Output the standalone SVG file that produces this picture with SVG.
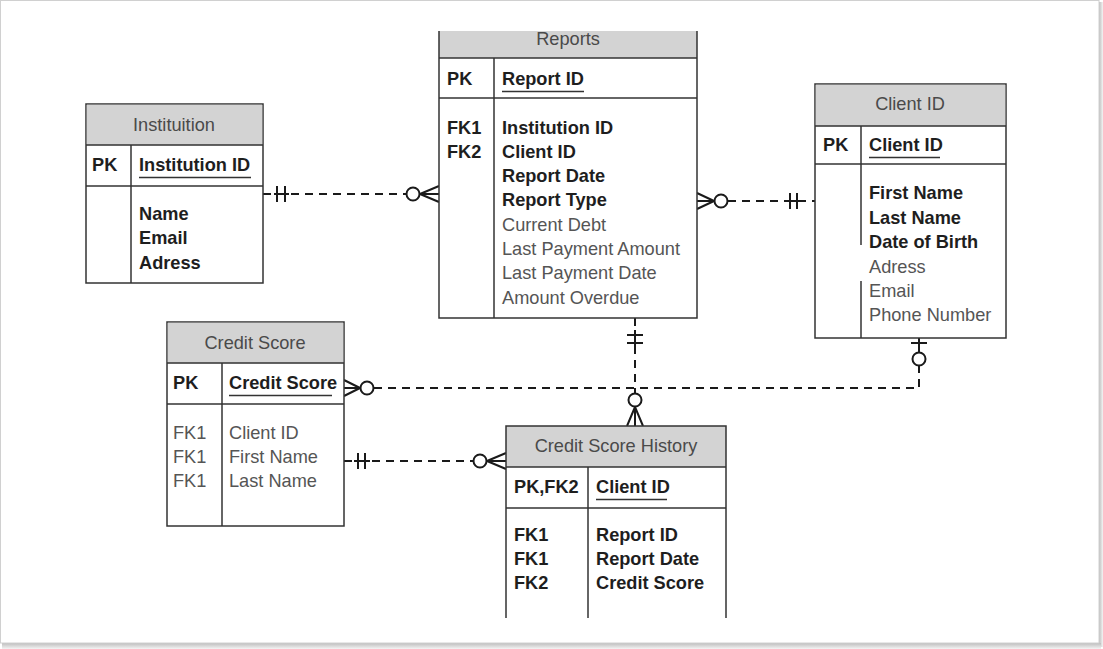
<svg xmlns="http://www.w3.org/2000/svg" width="1103" height="649" viewBox="0 0 1103 649">
<defs>
<linearGradient id="shR" x1="0" y1="0" x2="1" y2="0"><stop offset="0" stop-color="#bdbdbd"/><stop offset="1" stop-color="#f4f4f4"/></linearGradient>
<linearGradient id="shB" x1="0" y1="0" x2="0" y2="1"><stop offset="0" stop-color="#bdbdbd"/><stop offset="1" stop-color="#f4f4f4"/></linearGradient>
</defs>
<style>
.frame{fill:#fff;stroke:#d0d0d0;stroke-width:1}
.hdr{fill:#d3d3d3;stroke:none}
.ln{stroke:#333;stroke-width:1.5;fill:none}
.box{fill:#fff;stroke:#333;stroke-width:1.5}
.t{font-family:"Liberation Sans",Arial,sans-serif;font-size:18.2px}
.b{font-weight:bold;fill:#1e1e1e}
.r{fill:#555}
.h{fill:#4a4a4a;text-anchor:middle}
.ul{stroke:#333;stroke-width:1.3}
.c{stroke:#1a1a1a;stroke-width:2;fill:none}
.d{stroke-dasharray:8 6}
.o{fill:#fff;stroke:#1a1a1a;stroke-width:2}
</style>
<rect x="0" y="0" width="1103" height="649" fill="#fff"/>
<rect x="1099" y="2" width="4" height="645" fill="url(#shR)"/>
<rect x="2" y="643" width="1099" height="6" fill="url(#shB)"/>
<rect class="frame" x="0.5" y="0.5" width="1098.5" height="642.5"/>

<g id="connectors">
  <!-- Institution - Reports -->
  <line class="c d" x1="263" y1="194" x2="406" y2="194"/>
  <line class="c" x1="274" y1="194" x2="289" y2="194"/>
  <line class="c" x1="277" y1="186" x2="277" y2="202"/>
  <line class="c" x1="285" y1="186" x2="285" y2="202"/>
  <circle class="o" cx="413" cy="194" r="6.5"/>
  <path class="c" d="M420,194 L439,186 M420,194 L439,194 M420,194 L439,202"/>
  <!-- Reports - Client -->
  <path class="c" d="M697,193 L714,201 M697,201 L714,201 M697,209 L714,201"/>
  <circle class="o" cx="721" cy="201" r="6.5"/>
  <line class="c d" x1="728" y1="201" x2="815" y2="201"/>
  <line class="c" x1="786" y1="201" x2="801" y2="201"/>
  <line class="c" x1="790" y1="193" x2="790" y2="209"/>
  <line class="c" x1="797" y1="193" x2="797" y2="209"/>
  <!-- Credit Score - Client -->
  <path class="c" d="M344,380 L360,388 M344,388 L360,388 M344,396 L360,388"/>
  <circle class="o" cx="367" cy="388" r="6.5"/>
  <path class="c d" d="M374,388 H919 V366"/>
  <line class="c" x1="919" y1="338" x2="919" y2="352"/>
  <line class="c" x1="911" y1="343" x2="927" y2="343"/>
  <circle class="o" cx="919" cy="359" r="6.5"/>
  <!-- Reports - Credit Score History -->
  <line class="c d" x1="635" y1="318" x2="635" y2="393"/>
  <line class="c" x1="635" y1="330" x2="635" y2="348"/>
  <line class="c" x1="627" y1="335" x2="643" y2="335"/>
  <line class="c" x1="627" y1="343" x2="643" y2="343"/>
  <circle class="o" cx="635" cy="400" r="6.5"/>
  <path class="c" d="M635,407 L627,426 M635,407 L635,426 M635,407 L643,426"/>
  <!-- Credit Score - Credit Score History -->
  <line class="c d" x1="344" y1="461" x2="473" y2="461"/>
  <line class="c" x1="354" y1="461" x2="370" y2="461"/>
  <line class="c" x1="358" y1="453" x2="358" y2="469"/>
  <line class="c" x1="365" y1="453" x2="365" y2="469"/>
  <circle class="o" cx="480" cy="461" r="6.5"/>
  <path class="c" d="M487,461 L506,453 M487,461 L506,461 M487,461 L506,469"/>
</g>

<g id="institution">
  <rect class="box" x="86" y="104" width="177" height="179"/>
  <rect class="hdr" x="86.75" y="104.75" width="175.5" height="40.5"/>
  <line class="ln" x1="86" y1="145" x2="263" y2="145"/>
  <line class="ln" x1="86" y1="186" x2="263" y2="186"/>
  <line class="ln" x1="131" y1="145" x2="131" y2="283"/>
  <text class="t h" x="174" y="131">Instituition</text>
  <text class="t b" x="92" y="171">PK</text>
  <text class="t b" x="139" y="171">Institution ID</text>
  <line class="ul" x1="139" y1="177.5" x2="251" y2="177.5"/>
  <text class="t b" x="139" y="220">Name</text>
  <text class="t b" x="139" y="244">Email</text>
  <text class="t b" x="139" y="269">Adress</text>
</g>

<g id="reports">
  <rect x="439" y="58" width="258" height="260" fill="#fff"/>
  <rect class="hdr" x="439" y="31" width="258" height="27"/>
  <path class="ln" d="M439,31 V318 H697 V31"/>
  <line class="ln" x1="439" y1="58" x2="697" y2="58"/>
  <line class="ln" x1="439" y1="98" x2="697" y2="98"/>
  <line class="ln" x1="494" y1="58" x2="494" y2="318"/>
  <text class="t h" x="568" y="45">Reports</text>
  <text class="t b" x="447" y="85">PK</text>
  <text class="t b" x="502" y="85">Report ID</text>
  <line class="ul" x1="502" y1="91.5" x2="584" y2="91.5"/>
  <text class="t b" x="447" y="134">FK1</text>
  <text class="t b" x="447" y="158">FK2</text>
  <text class="t b" x="502" y="134">Institution ID</text>
  <text class="t b" x="502" y="158">Client ID</text>
  <text class="t b" x="502" y="182">Report Date</text>
  <text class="t b" x="502" y="206">Report Type</text>
  <text class="t r" x="502" y="231">Current Debt</text>
  <text class="t r" x="502" y="255">Last Payment Amount</text>
  <text class="t r" x="502" y="279">Last Payment Date</text>
  <text class="t r" x="502" y="304">Amount Overdue</text>
</g>

<g id="client">
  <rect class="box" x="815" y="84" width="191" height="254"/>
  <rect class="hdr" x="815.75" y="84.75" width="189.5" height="41.5"/>
  <line class="ln" x1="815" y1="126" x2="1006" y2="126"/>
  <line class="ln" x1="815" y1="164" x2="1006" y2="164"/>
  <line class="ln" x1="861" y1="126" x2="861" y2="245"/>
  <line class="ln" x1="861" y1="281" x2="861" y2="338"/>
  <text class="t h" x="910" y="110">Client ID</text>
  <text class="t b" x="823" y="151">PK</text>
  <text class="t b" x="869" y="151">Client ID</text>
  <line class="ul" x1="869" y1="157.5" x2="940" y2="157.5"/>
  <text class="t b" x="869" y="199">First Name</text>
  <text class="t b" x="869" y="224">Last Name</text>
  <text class="t b" x="869" y="248">Date of Birth</text>
  <text class="t r" x="869" y="273">Adress</text>
  <text class="t r" x="869" y="297">Email</text>
  <text class="t r" x="869" y="321">Phone Number</text>
</g>

<g id="credit-score">
  <rect class="box" x="167" y="322" width="177" height="204"/>
  <rect class="hdr" x="167.75" y="322.75" width="175.5" height="40.5"/>
  <line class="ln" x1="167" y1="363" x2="344" y2="363"/>
  <line class="ln" x1="167" y1="404" x2="344" y2="404"/>
  <line class="ln" x1="222" y1="363" x2="222" y2="526"/>
  <text class="t h" x="255" y="349">Credit Score</text>
  <text class="t b" x="173" y="389">PK</text>
  <text class="t b" x="229" y="389">Credit Score</text>
  <line class="ul" x1="229" y1="395.5" x2="332" y2="395.5"/>
  <text class="t r" x="173" y="439">FK1</text>
  <text class="t r" x="173" y="463">FK1</text>
  <text class="t r" x="173" y="487">FK1</text>
  <text class="t r" x="229" y="439">Client ID</text>
  <text class="t r" x="229" y="463">First Name</text>
  <text class="t r" x="229" y="487">Last Name</text>
</g>

<g id="credit-score-history">
  <rect x="506" y="426" width="220" height="192" fill="#fff"/>
  <rect class="hdr" x="506" y="426" width="220" height="41"/>
  <path class="ln" d="M506,618 V426 H726 V618"/>
  <line class="ln" x1="506" y1="467" x2="726" y2="467"/>
  <line class="ln" x1="506" y1="508" x2="726" y2="508"/>
  <line class="ln" x1="588" y1="467" x2="588" y2="618"/>
  <text class="t h" x="616" y="452">Credit Score History</text>
  <text class="t b" x="514" y="493">PK,FK2</text>
  <text class="t b" x="596" y="493">Client ID</text>
  <line class="ul" x1="596" y1="499.5" x2="667" y2="499.5"/>
  <text class="t b" x="514" y="541">FK1</text>
  <text class="t b" x="514" y="565">FK1</text>
  <text class="t b" x="514" y="589">FK2</text>
  <text class="t b" x="596" y="541">Report ID</text>
  <text class="t b" x="596" y="565">Report Date</text>
  <text class="t b" x="596" y="589">Credit Score</text>
</g>
</svg>
